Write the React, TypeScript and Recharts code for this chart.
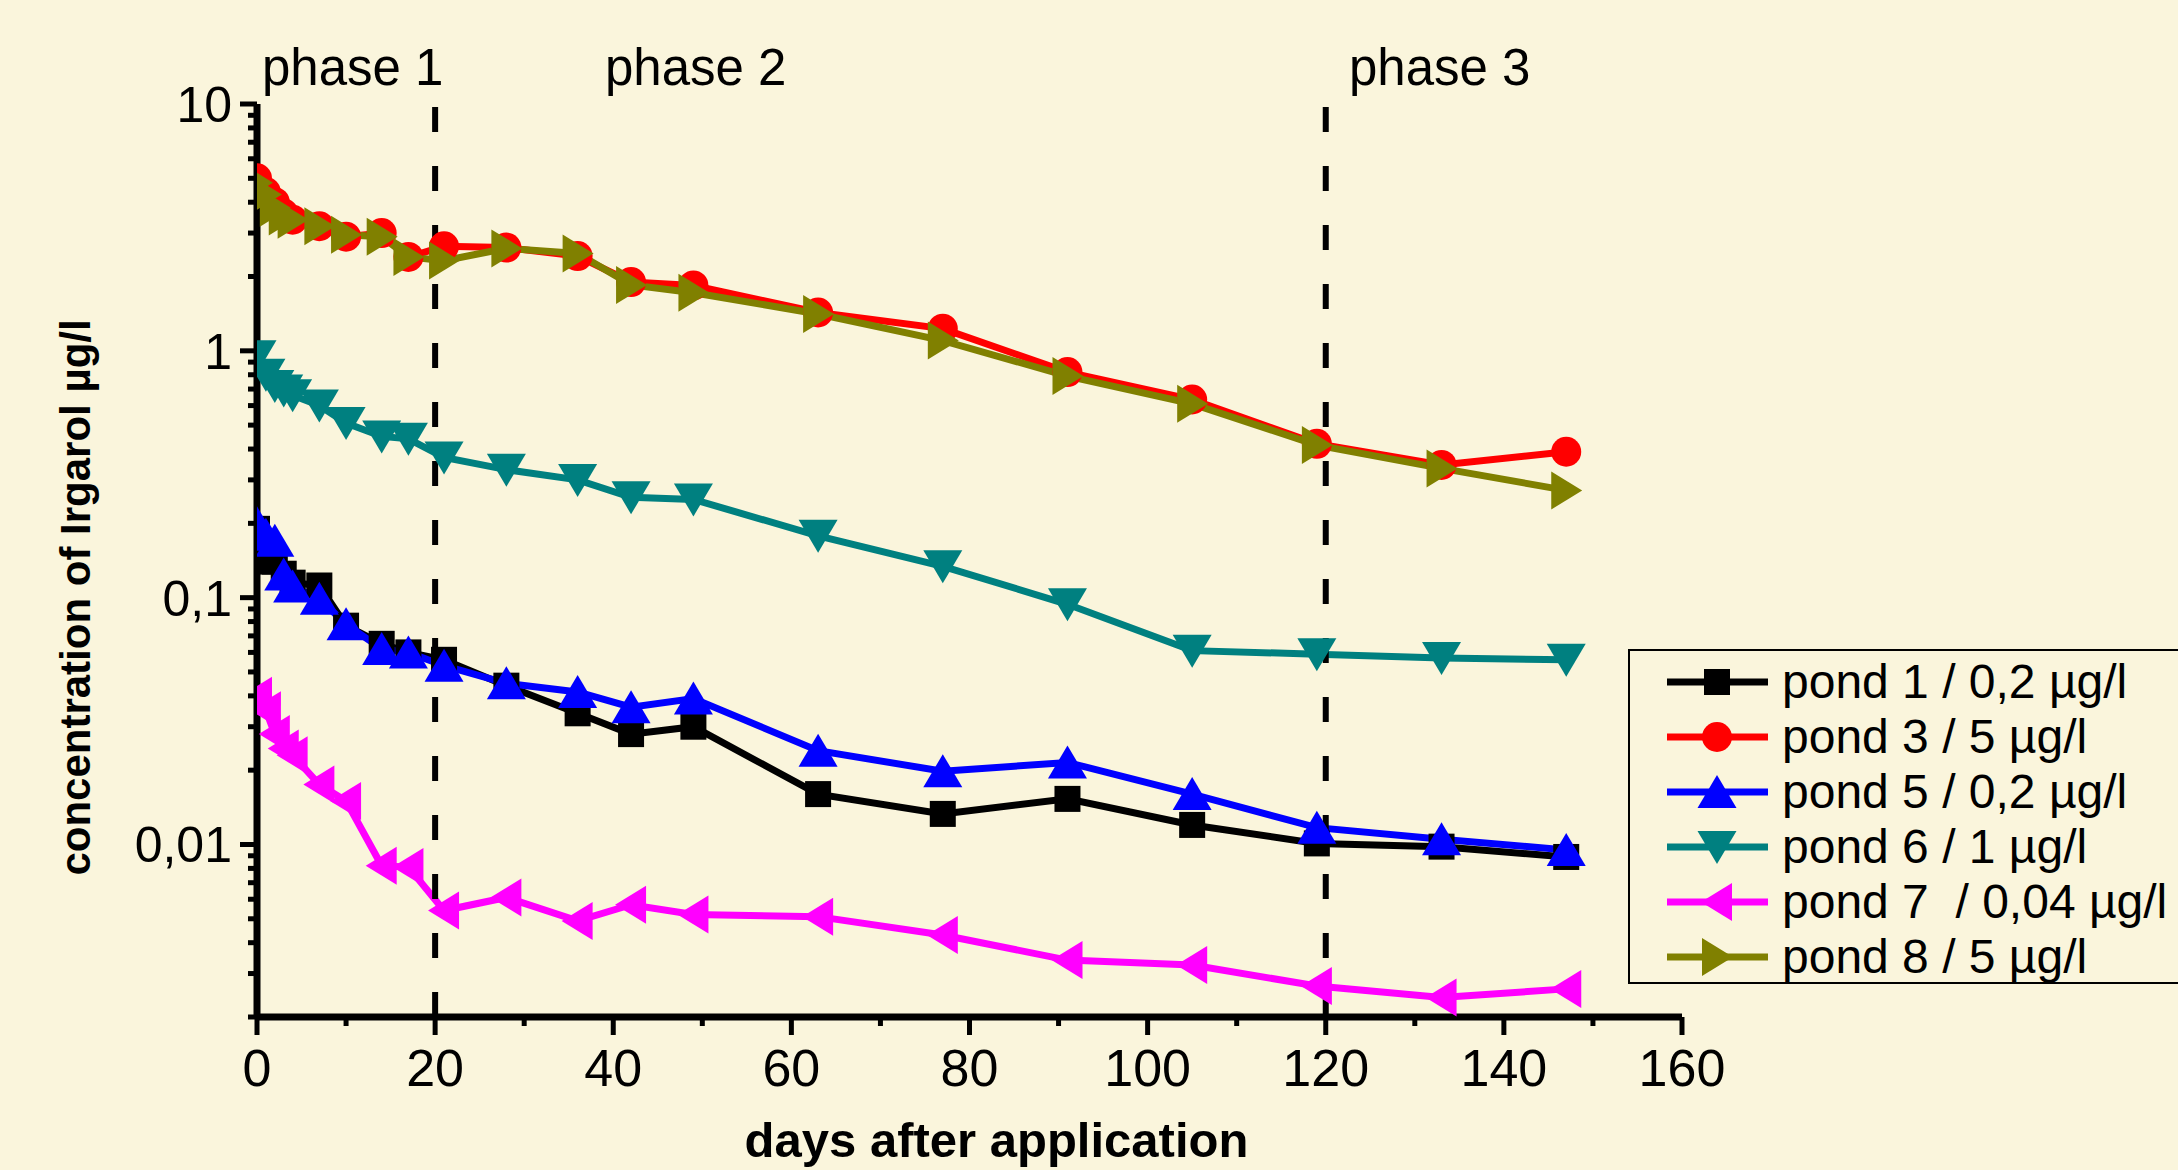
// IrgarolChart.tsx
import React from 'react';
import {
  LineChart,
  Line,
  XAxis,
  YAxis,
  ReferenceLine,
  Legend,
  Label,
  Customized
} from 'recharts';

// Sampling days (days after application)
const days = [0, 1, 2, 3, 4, 7, 10, 14, 17, 21, 28, 36, 42, 49, 63, 77, 91, 105, 119, 133, 147];

// Concentrations of Irgarol (µg/l)
const pond1 = [0.19, 0.14, 0.14, 0.125, 0.115, 0.112, 0.077, 0.065, 0.06, 0.056, 0.044, 0.034, 0.028, 0.030, 0.016, 0.0133, 0.0153, 0.012, 0.0101, 0.0098, 0.0089];
const pond3 = [5.0, 4.4, 4.0, 3.6, 3.4, 3.2, 2.9, 3.0, 2.4, 2.65, 2.62, 2.42, 1.9, 1.84, 1.43, 1.23, 0.82, 0.635, 0.42, 0.345, 0.39];
const pond5 = [0.2, 0.18, 0.17, 0.124, 0.111, 0.099, 0.078, 0.062, 0.06, 0.053, 0.045, 0.0415, 0.036, 0.039, 0.024, 0.0198, 0.0215, 0.016, 0.0117, 0.0105, 0.0095];
const pond6 = [0.95, 0.8, 0.72, 0.69, 0.66, 0.6, 0.51, 0.45, 0.44, 0.37, 0.33, 0.30, 0.255, 0.25, 0.178, 0.134, 0.094, 0.061, 0.059, 0.057, 0.056];
const pond7 = [0.04, 0.035, 0.028, 0.0245, 0.023, 0.0175, 0.015, 0.0082, 0.0081, 0.0054, 0.0061, 0.0049, 0.0057, 0.0052, 0.0051, 0.0043, 0.0034, 0.00325, 0.00267, 0.0024, 0.0026];
const pond8 = [4.8, 4.3, 3.8, 3.5, 3.4, 3.2, 2.95, 2.9, 2.4, 2.32, 2.6, 2.48, 1.85, 1.72, 1.41, 1.1, 0.79, 0.61, 0.415, 0.334, 0.272];

// Axis ticks
const xTicks = [0, 10, 20, 30, 40, 50, 60, 70, 80, 90, 100, 110, 120, 130, 140, 150, 160];
const xMajor = [0, 20, 40, 60, 80, 100, 120, 140, 160];
const yTicks = [
  0.002, 0.003, 0.004, 0.005, 0.006, 0.007, 0.008, 0.009,
  0.01, 0.02, 0.03, 0.04, 0.05, 0.06, 0.07, 0.08, 0.09,
  0.1, 0.2, 0.3, 0.4, 0.5, 0.6, 0.7, 0.8, 0.9,
  1, 2, 3, 4, 5, 6, 7, 8, 9,
  10
];
const yMajor = [0.01, 0.1, 1, 10];
const yMajorLabels = ['0,01', '0,1', '1', '10'];

// Phase boundaries and labels
const phaseBounds = [20, 120];
const phaseLabels = ['phase 1', 'phase 2', 'phase 3'];

type MarkerKind = 'square' | 'circle' | 'up' | 'down' | 'left' | 'right';

interface SeriesDef {
  key: string;
  name: string;
  color: string;
  marker: MarkerKind;
  values: number[];
}

const series: SeriesDef[] = [
  { key: 'p1', name: 'pond 1 / 0,2 µg/l', color: '#000000', marker: 'square', values: pond1 },
  { key: 'p3', name: 'pond 3 / 5 µg/l', color: '#FF0000', marker: 'circle', values: pond3 },
  { key: 'p5', name: 'pond 5 / 0,2 µg/l', color: '#0000FF', marker: 'up', values: pond5 },
  { key: 'p6', name: 'pond 6 / 1 µg/l', color: '#008080', marker: 'down', values: pond6 },
  { key: 'p7', name: 'pond 7  / 0,04 µg/l', color: '#FF00FF', marker: 'left', values: pond7 },
  { key: 'p8', name: 'pond 8 / 5 µg/l', color: '#808000', marker: 'right', values: pond8 }
];

const data = days.map((day, i) => {
  const row: Record<string, number> = { day };
  series.forEach(s => { row[s.key] = s.values[i]; });
  return row;
});

// Styles
const BG = '#FAF5DC';
const FONT = '"Liberation Sans", Arial, Helvetica, sans-serif';
const Y_TICK_LEN = 17;
const Y_TICK_MARGIN = 8;
const X_TICK_LEN = 18;
const X_TICK_MARGIN = 14;

const styles = {
  page: {
    position: 'absolute' as const,
    left: 0,
    top: 0,
    width: 2178,
    height: 1170,
    overflow: 'hidden',
    background: BG,
    fontFamily: FONT
  }
};

// Marker shapes
const Marker: React.FC<{ kind: MarkerKind; cx: number; cy: number; color: string }> = ({ kind, cx, cy, color }) => {
  if (cx == null || cy == null || isNaN(cx) || isNaN(cy)) return null;
  switch (kind) {
    case 'square':
      return <rect x={cx - 13} y={cy - 13} width={26} height={26} fill={color} />;
    case 'circle':
      return <circle cx={cx} cy={cy} r={15} fill={color} />;
    case 'up':
      return <polygon points={`${cx},${cy - 17} ${cx + 19.5},${cy + 16} ${cx - 19.5},${cy + 16}`} fill={color} />;
    case 'down':
      return <polygon points={`${cx},${cy + 17} ${cx + 19.5},${cy - 16} ${cx - 19.5},${cy - 16}`} fill={color} />;
    case 'left':
      return <polygon points={`${cx - 16},${cy} ${cx + 15},${cy - 19} ${cx + 15},${cy + 19}`} fill={color} />;
    case 'right':
      return <polygon points={`${cx + 16},${cy} ${cx - 15},${cy - 19} ${cx - 15},${cy + 19}`} fill={color} />;
  }
  return null;
};

// Axis ticks with major / minor lengths
const YTick = (props: any) => {
  const { x, y, payload } = props;
  const idx = yMajor.indexOf(payload.value);
  const axisX = x + Y_TICK_MARGIN + Y_TICK_LEN;
  const len = idx >= 0 ? Y_TICK_LEN : 9;
  return (
    <g>
      <line x1={axisX - len} x2={axisX} y1={y} y2={y} stroke="#000" strokeWidth={5} />
      {idx >= 0 && (
        <text x={x} y={y} dy="0.36em" textAnchor="end" fontSize={50} fontFamily={FONT} fill="#000">
          {yMajorLabels[idx]}
        </text>
      )}
    </g>
  );
};

const XTick = (props: any) => {
  const { x, y, payload } = props;
  const major = xMajor.includes(payload.value);
  const axisY = y - X_TICK_MARGIN - X_TICK_LEN;
  const len = major ? X_TICK_LEN : 9;
  return (
    <g>
      <line x1={x} x2={x} y1={axisY} y2={axisY + len} stroke="#000" strokeWidth={5} />
      {major && (
        <text x={x} y={y} dy="0.72em" textAnchor="middle" fontSize={52} fontFamily={FONT} fill="#000">
          {payload.value}
        </text>
      )}
    </g>
  );
};

// Legend box (its frame runs off the right edge, as in the figure)
const LegendBox = () => (
  <svg width={600} height={336} style={{ display: 'block', overflow: 'visible' }}>
    <rect x={1} y={1} width={598} height={333} fill="none" stroke="#000" strokeWidth={2} />
    {series.map((s, i) => {
      const cy = 33 + i * 55;
      return (
        <g key={s.key}>
          <line x1={39} x2={140} y1={cy} y2={cy} stroke={s.color} strokeWidth={7} />
          <Marker kind={s.marker} cx={89} cy={cy} color={s.color} />
          <text x={154} y={cy + 16} fontSize={48} fontFamily={FONT} fill="#000" style={{ whiteSpace: 'pre' }}>
            {s.name}
          </text>
        </g>
      );
    })}
  </svg>
);

// Phase labels above the plot
const PhaseLabels = () => (
  <g>
    <text x={262} y={85} fontSize={51} fontFamily={FONT} fill="#000">{phaseLabels[0]}</text>
    <text x={605} y={85} fontSize={51} fontFamily={FONT} fill="#000">{phaseLabels[1]}</text>
    <text x={1349} y={85} fontSize={51} fontFamily={FONT} fill="#000">{phaseLabels[2]}</text>
  </g>
);

const IrgarolChart: React.FC = () => (
  <div style={styles.page}>
    <LineChart
      width={2178}
      height={1170}
      data={data}
      margin={{ top: 104, right: 496, bottom: 53, left: 57 }}
    >
      <XAxis
        dataKey="day"
        type="number"
        domain={[0, 160]}
        ticks={xTicks}
        interval={0}
        height={100}
        tickSize={X_TICK_LEN}
        tickMargin={X_TICK_MARGIN}
        tickLine={false}
        tick={<XTick />}
        axisLine={{ stroke: '#000', strokeWidth: 7 }}
        allowDataOverflow
      >
        <Label
          content={(props: any) => {
            const vb = props.viewBox;
            return (
              <text
                x={vb.x + vb.width / 2 + 27}
                y={vb.y + 140}
                textAnchor="middle"
                fontSize={49}
                fontWeight="bold"
                fontFamily={FONT}
                fill="#000"
              >
                days after application
              </text>
            );
          }}
        />
      </XAxis>
      <YAxis
        type="number"
        scale="log"
        domain={[0.002, 10]}
        ticks={yTicks}
        interval={0}
        width={200}
        tickSize={Y_TICK_LEN}
        tickMargin={Y_TICK_MARGIN}
        tickLine={false}
        tick={<YTick />}
        axisLine={{ stroke: '#000', strokeWidth: 7 }}
        allowDataOverflow
      >
        <Label
          content={(props: any) => {
            const vb = props.viewBox;
            const cx = vb.x + 18;
            const cy = vb.y + vb.height / 2 + 37;
            return (
              <text
                x={cx}
                y={cy}
                dy="0.36em"
                transform={`rotate(-90 ${cx} ${cy})`}
                textAnchor="middle"
                fontSize={42}
                fontWeight="bold"
                fontFamily={FONT}
                fill="#000"
              >
                concentration of Irgarol µg/l
              </text>
            );
          }}
        />
      </YAxis>

      {series.map(s => (
        <Line
          key={s.key}
          type="linear"
          dataKey={s.key}
          name={s.name}
          stroke={s.color}
          strokeWidth={7}
          isAnimationActive={false}
          activeDot={false}
          dot={(p: any) => (
            <Marker key={`${s.key}-${p.index}`} kind={s.marker} cx={p.cx} cy={p.cy} color={s.color} />
          )}
        />
      ))}

      {phaseBounds.map(b => (
        <ReferenceLine
          key={b}
          segment={[{ x: b, y: 0.002 }, { x: b, y: 10 }]}
          stroke="#000"
          strokeWidth={6}
          strokeDasharray="25 34"
        />
      ))}

      <Customized component={PhaseLabels} />

      <Legend
        layout="vertical"
        align="center"
        verticalAlign="middle"
        content={() => <LegendBox />}
        wrapperStyle={{ left: 1628, top: 649, width: 600 }}
      />
    </LineChart>
  </div>
);

export default IrgarolChart;
